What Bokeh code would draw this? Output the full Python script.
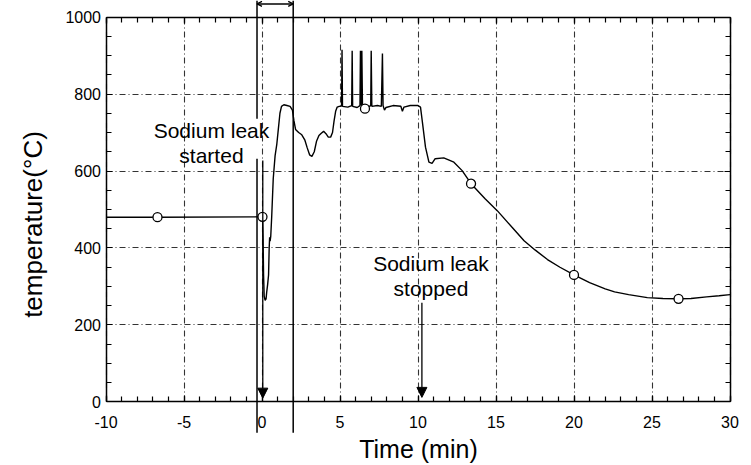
import math

from bokeh.plotting import figure
from bokeh.models import FixedTicker, LinearAxis, Range1d, Label, Arrow, NormalHead, OpenHead
from bokeh.embed import file_html
from bokeh.resources import INLINE

# --- data -------------------------------------------------------------
x_ticks = [-10, -5, 0, 5, 10, 15, 20, 25, 30]
x_tick_labels = ["-10", "-5", "0", "5", "10", "15", "20", "25", "30"]
y_ticks = [0, 200, 400, 600, 800, 1000]
y_tick_labels = ["0", "200", "400", "600", "800", "1000"]

# thermocouple trace (min, degC)
time_min = [
    -10.0, -6.7, 0.0, 0.04, 0.07, 0.10, 0.14, 0.20, 0.26, 0.30, 0.36, 0.42,
    0.46, 0.49, 0.52, 0.56, 0.62, 0.72, 0.84, 0.95, 1.05, 1.15, 1.25, 1.40,
    1.60, 1.80, 1.95, 2.05, 2.15, 2.35, 2.55, 2.75, 2.90, 3.05, 3.20, 3.35,
    3.50, 3.65, 3.80, 3.95, 4.10, 4.25, 4.40, 4.52, 4.62, 4.72, 4.82, 4.95,
    5.10, 5.13, 5.16, 5.50, 5.75, 5.78, 5.81, 6.10, 6.28, 6.31, 6.36, 6.40,
    6.44, 6.55, 6.65, 6.75, 6.97, 7.00, 7.04, 7.40, 7.65, 7.72, 7.76, 7.85,
    7.95, 8.40, 8.90, 9.00, 9.10, 9.50, 10.00, 10.16, 10.27, 10.48, 10.70,
    10.90, 11.10, 11.65, 12.30, 12.83, 13.40, 14.30, 15.08, 16.00, 16.80,
    17.50, 18.30, 19.10, 20.00, 21.00, 22.00, 22.60, 23.50, 24.70, 25.70,
    26.70, 27.50, 28.50, 29.30, 30.00,
]
temp_c = [
    480, 480, 481, 470, 420, 330, 275, 264, 268, 285, 305, 330,
    400, 428, 418, 430, 480, 580, 640, 670, 710, 750, 768, 772,
    770, 768, 758, 730, 708, 700, 694, 680, 660, 642, 638, 650,
    678, 692, 698, 703, 697, 688, 688, 700, 730, 755, 766, 768,
    769, 915, 768, 766, 770, 912, 768, 765, 770, 912, 770, 912,
    768, 762, 760, 765, 770, 912, 768, 770, 768, 905, 770, 758,
    765, 770, 768, 755, 766, 770, 770, 766, 731, 662, 623,
    620, 632, 634, 623, 601, 567, 528, 497, 455, 419,
    395, 370, 350, 330, 310, 294, 286, 279, 271, 269,
    268, 269, 273, 276, 279,
]

# sampled points marked with circles
mark_t = [-6.7, 0.03, 6.6, 13.4, 20.0, 26.7]
mark_v = [480, 481, 762, 567, 330, 268]

# interval lines (0 - 2 min) and event arrows
interval_start = -0.32
interval_end = 2.0
leak_start_t = 0.05
leak_stop_t = 10.25

FONT = "Liberation Sans"

# The plotting frame covers the whole canvas so that the interval lines and
# titles can sit outside the 0-1000 / -10-30 box; the box itself is drawn by
# four axes pinned at its edges.
p = figure(width=751, height=465, output_backend="svg", toolbar_location=None,
           x_range=Range1d(-16.763, 31.378), y_range=Range1d(-164.94, 1042.86),
           min_border_left=0, min_border_right=0, min_border_top=0,
           min_border_bottom=0)
p.background_fill_color = "white"
p.border_fill_color = "white"
p.outline_line_color = None

xt = FixedTicker(ticks=x_ticks, minor_ticks=list(range(-10, 31)))
yt = FixedTicker(ticks=y_ticks, minor_ticks=list(range(0, 1001, 50)))


def style_axis(ax, ticker, labels, show_labels=True):
    ax.ticker = ticker
    ax.axis_line_color = "black"
    ax.axis_line_width = 1.5
    ax.major_tick_in = 6
    ax.major_tick_out = 0
    ax.minor_tick_in = 5
    ax.minor_tick_out = 0
    ax.major_tick_line_color = "black"
    ax.minor_tick_line_color = "black"
    ax.major_tick_line_width = 1.2
    ax.minor_tick_line_width = 1.2
    ax.major_label_text_font = FONT
    ax.major_label_overrides = {t: s for t, s in zip(ticker.ticks, labels)}
    if show_labels:
        ax.major_label_text_font_size = "16px"
        ax.major_label_text_color = "black"
    else:
        ax.major_label_text_font_size = "6px"
        ax.major_label_text_color = None
        ax.major_label_standoff = 0


bottom_ax = p.xaxis[0]
left_ax = p.yaxis[0]
style_axis(bottom_ax, xt, x_tick_labels)
style_axis(left_ax, yt, y_tick_labels)
bottom_ax.fixed_location = 0
bottom_ax.bounds = (-10, 30)
left_ax.fixed_location = -10
left_ax.bounds = (0, 1000)
bottom_ax.major_label_standoff = 14
left_ax.major_label_standoff = 5

top_ax = LinearAxis(fixed_location=1000, bounds=(-10, 30))
style_axis(top_ax, xt, x_tick_labels, show_labels=False)
p.add_layout(top_ax, "above")
right_ax = LinearAxis(fixed_location=30, bounds=(0, 1000))
style_axis(right_ax, yt, y_tick_labels, show_labels=False)
p.add_layout(right_ax, "right")

for g, tk in ((p.xgrid[0], xt), (p.ygrid[0], yt)):
    g.ticker = tk
    g.grid_line_color = "black"
    g.grid_line_alpha = 0.8
    g.grid_line_width = 1.1
    g.grid_line_dash = "6 3 1 3"
p.xgrid[0].cross_bounds = (0, 1000)
p.ygrid[0].cross_bounds = (-10, 30)

# axis titles
p.add_layout(Label(x=10.03, y=-123, text="Time (min)", text_font=FONT,
                   text_font_size="25px", text_align="center",
                   text_baseline="middle", text_color="black"))
p.add_layout(Label(x=-14.65, y=461, text="temperature(°C)", text_font=FONT,
                   text_font_size="26px", text_align="center",
                   text_baseline="middle", text_color="black", angle=math.pi / 2))

# interval marker lines, running past the box
y_lo, y_hi = -80, 1043
p.add_layout(Arrow(x_start=interval_start, y_start=y_hi, x_end=interval_start, y_end=736,
                   end=None, start=None, line_color="black", line_width=1.5))
p.add_layout(Arrow(x_start=interval_start, y_start=632, x_end=interval_start, y_end=y_lo,
                   end=None, start=None, line_color="black", line_width=1.5))
p.add_layout(Arrow(x_start=interval_end, y_start=y_hi, x_end=interval_end, y_end=y_lo,
                   end=None, start=None, line_color="black", line_width=1.5))
p.add_layout(Arrow(x_start=interval_start, y_start=1034, x_end=interval_end, y_end=1034,
                   start=OpenHead(size=5, line_width=1.2), end=OpenHead(size=5, line_width=1.2),
                   line_color="black", line_width=1.5))

# event arrows
p.add_layout(Arrow(x_start=leak_start_t, y_start=627, x_end=leak_start_t, y_end=10,
                   end=NormalHead(size=10, fill_color="black", line_color="black"),
                   line_color="black", line_width=1.3))
p.add_layout(Arrow(x_start=leak_stop_t, y_start=258, x_end=leak_stop_t, y_end=12,
                   end=NormalHead(size=10, fill_color="black", line_color="black"),
                   line_color="black", line_width=1.3))

# temperature trace
p.line(time_min, temp_c, line_color="black", line_width=1.4)
p.scatter(mark_t, mark_v, marker="circle", size=9, fill_color="white",
          line_color="black", line_width=1.3)

for txt, x, y in (("Sodium leak", -3.24, 705), ("started", -3.24, 640),
                  ("Sodium leak", 10.83, 360), ("stopped", 10.83, 295)):
    p.add_layout(Label(x=x, y=y, text=txt, text_font=FONT, text_font_size="21px",
                       text_align="center", text_baseline="middle", text_color="black"))

open("out.html", "w").write(file_html(p, INLINE))
